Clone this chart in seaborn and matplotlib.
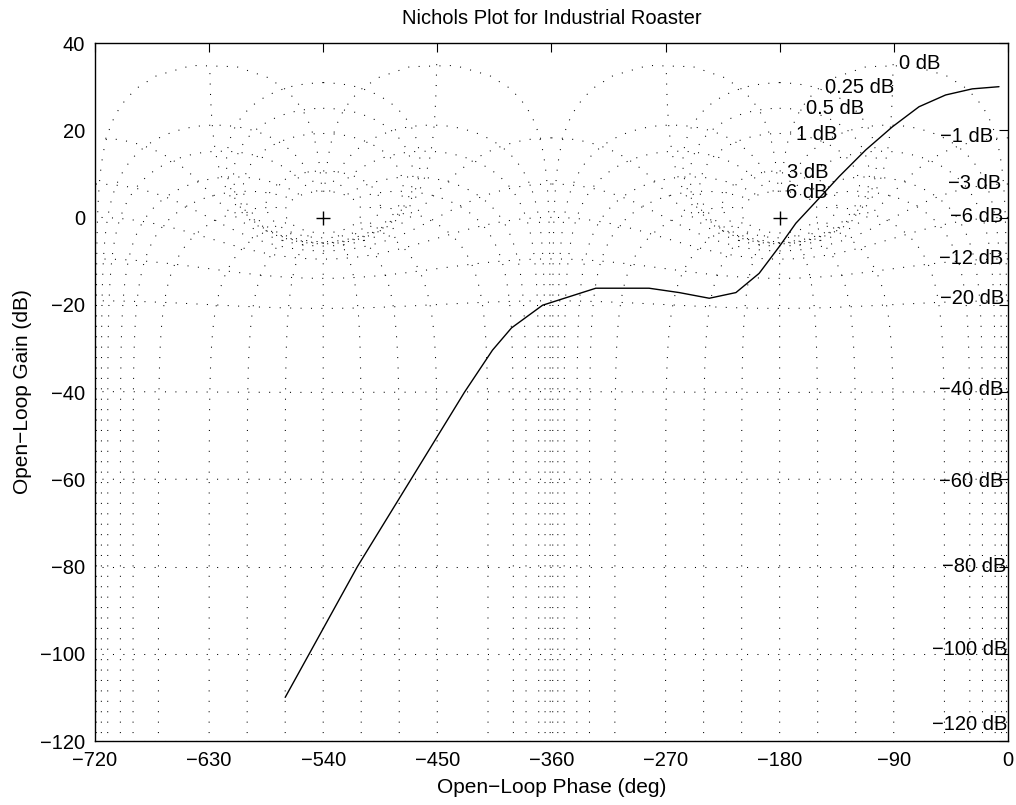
import numpy as np
import matplotlib
matplotlib.use("Agg")
import matplotlib.pyplot as plt
import seaborn as sns
import pandas as pd

# open-loop response
phase_deg = [-570, -513, -442, -428.5, -406.5, -391.5, -367, -325, -283,
             -259.2, -235.5, -214.5, -196.2, -180.4, -167.2, -151.5, -133.1,
             -112.1, -91.1, -70.1, -49.1, -28.1, -7]
gain_db = [-110, -80, -46.4, -40, -30.4, -25.3, -20.1, -16.2, -16.2,
           -17.2, -18.5, -17.2, -12.8, -6.7, -1.3, 3.6, 9.4,
           15.5, 20.8, 25.4, 28.1, 29.5, 30]

# Nichols grid: closed-loop gains (dB) and closed-loop phases (deg)
cl_gain_db = [6, 3, 1, 0.5, 0.25, 0, -1, -3, -6, -12, -20, -40, -60, -80, -100, -120]
cl_phase_deg = [1, 5, 10, 20, 30, 50, 90, 120, 150, 180,
                210, 240, 270, 310, 330, 340, 350, 355, 359]

# label text and where it sits (deg, dB)
grid_labels = ["0 dB", "0.25 dB", "0.5 dB", "1 dB", "3 dB", "6 dB",
               "\u22121 dB", "\u22123 dB", "\u22126 dB", "\u221212 dB", "\u221220 dB",
               "\u221240 dB", "\u221260 dB", "\u221280 dB", "\u2212100 dB", "\u2212120 dB"]
label_x = [-85.8, -144.1, -159.1, -167, -174.1, -174.9,
           -53.5, -47.2, -45.7, -54.3, -53.5,
           -54.3, -54.3, -52, -60, -60]
label_y = [35.4, 29.7, 24.9, 19.1, 10.4, 5.8,
           18.5, 7.7, 0.3, -9.5, -18.5,
           -39.5, -60.6, -79.9, -99.1, -116.3]


def ol_curve(T):
    L = T / (1 - T)
    ang = np.degrees(np.unwrap(np.angle(L)))
    return ang, 20 * np.log10(np.abs(L))


sns.set_theme(style="white")
plt.rcParams["font.family"] = ["Liberation Sans", "DejaVu Sans"]
plt.rcParams["font.size"] = 14.5
plt.rcParams["text.color"] = "black"
plt.rcParams["axes.labelcolor"] = "black"

fig = plt.figure(figsize=(10.16, 8.05), dpi=100)
ax = fig.add_axes([0.0935, 0.0795, 0.8985, 0.867])

dots = dict(color="black", lw=0.75, ls=(0, (1, 9)))

# constant closed-loop gain contours
for g in cl_gain_db:
    M = 10 ** (g / 20)
    if g == 0:
        phi = np.linspace(1, 359, 900)
    else:
        phi = np.linspace(0, 360, 900)
    ang, mag = ol_curve(M * np.exp(-1j * np.radians(phi)))
    ang = ang - 360 * np.ceil(ang.max() / 360)
    for shift in (0, -360):
        ax.plot(ang + shift, mag, **dots)

# constant closed-loop phase contours
m_db = np.linspace(-140, 6, 1500)
for p in cl_phase_deg:
    ang, mag = ol_curve(10 ** (m_db / 20) * np.exp(-1j * np.radians(p)))
    ang = ang - 360 * np.ceil(ang[0] / 360)
    for shift in (0, -360):
        ax.plot(ang + shift, mag, **dots)

for t, x, y in zip(grid_labels, label_x, label_y):
    ax.text(x, y, t, ha="left", va="center", fontsize=14.5, color="black")

ax.plot([-540, -180], [0, 0], ls="none", marker="+", ms=10, mew=1, color="black")

df = pd.DataFrame({"phase": phase_deg, "gain": gain_db})
sns.lineplot(data=df, x="phase", y="gain", sort=False, estimator=None,
             color="black", lw=1.0, ax=ax)

ax.set_xlim(-720, 0)
ax.set_ylim(-120, 40)
ax.set_xticks(np.arange(-720, 1, 90))
ax.set_yticks(np.arange(-120, 41, 20))
ax.tick_params(direction="in", length=6.5, width=0.8, top=True, right=True,
               labelsize=14.5, pad=7, colors="black")
for s in ax.spines.values():
    s.set_color("black")
    s.set_linewidth(1.0)

ax.set_xlabel("Open\u2212Loop Phase (deg)", fontsize=15, labelpad=6)
ax.set_ylabel("Open\u2212Loop Gain (dB)", fontsize=15, labelpad=6)
ax.set_title("Nichols Plot for Industrial Roaster", fontsize=14.5, pad=14)

fig.savefig("out.png", dpi=100)
